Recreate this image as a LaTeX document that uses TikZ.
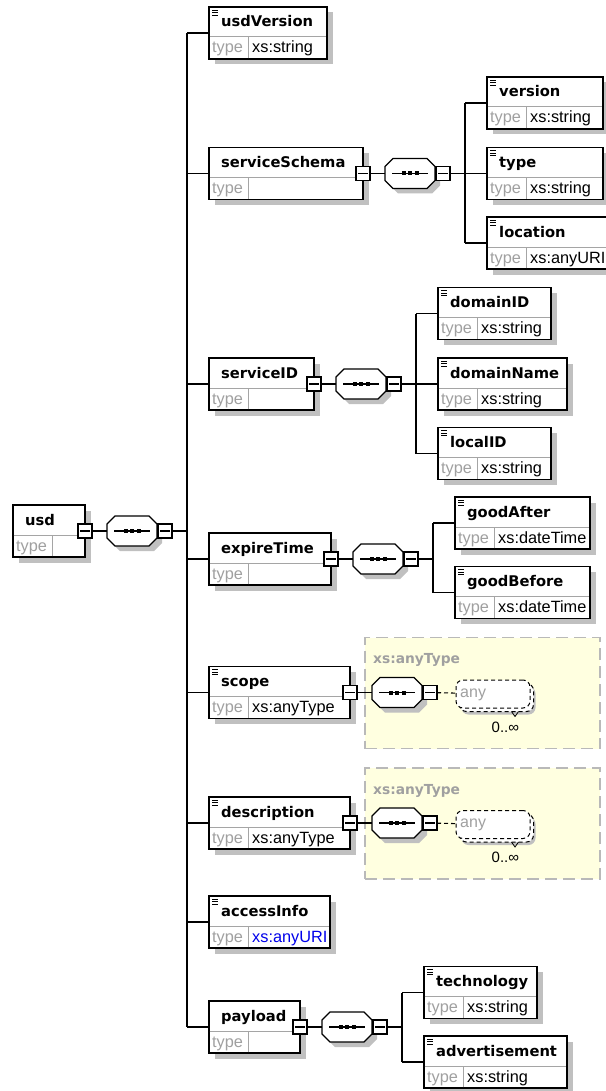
\documentclass[tikz,border=0pt]{standalone}
\usepackage{fontspec}
\setmainfont{Liberation Sans}
\newfontfamily\namefont{DejaVu Sans}
\usetikzlibrary{calc,shadows}

\definecolor{shadowcol}{RGB}{192,192,192}
\definecolor{keygray}{RGB}{160,160,160}
\definecolor{rulegray}{RGB}{165,165,165}
\definecolor{regionfill}{RGB}{255,255,224}
\definecolor{regionedge}{RGB}{185,185,185}
\definecolor{uriblue}{RGB}{0,0,235}

\tikzset{
  conn/.style={line width=1.1pt, draw=black},
  elembox/.style={draw=black, line width=1.3pt, fill=white, minimum height=52pt,
    inner sep=0pt, outer sep=0pt,
    drop shadow={shadow xshift=5.5pt, shadow yshift=-5.5pt, fill=shadowcol, opacity=1}},
  rowline/.style={draw=rulegray, line width=1pt},
  nametext/.style={anchor=base west, inner sep=0pt,
    font=\namefont\bfseries\fontsize{14.7}{17}\selectfont},
  typekey/.style={anchor=base west, inner sep=0pt, text=keygray,
    font=\fontsize{16.3}{18}\selectfont},
  typeval/.style={anchor=base west, inner sep=0pt, font=\fontsize{16.3}{18}\selectfont},
  minusbox/.style={draw=black, line width=1.1pt, fill=white, minimum size=14pt,
    inner sep=0pt, outer sep=0pt,
    path picture={\draw[line width=1.1pt]
      ([xshift=-5pt]path picture bounding box.center) --
      ([xshift=5pt]path picture bounding box.center);}},
  seqnode/.style={rectangle, minimum width=50pt, minimum height=30pt,
    inner sep=0pt, outer sep=0pt},
  octline/.style={draw=black, line width=1.3pt, fill=white},
  iconline/.style={line width=0.8pt},
  anyregion/.style={draw=regionedge, fill=regionfill, line width=1.2pt,
    dash pattern=on 12pt off 6pt, minimum width=235pt, minimum height=111pt,
    inner sep=0pt},
  anylabel/.style={anchor=base west, inner sep=0pt, text=keygray,
    font=\namefont\bfseries\fontsize{13.8}{16}\selectfont},
  wildcard/.style={draw=black, line width=1pt, dash pattern=on 4pt off 3pt,
    fill=white, rounded corners=7pt, minimum width=74pt, minimum height=28pt,
    inner sep=0pt},
  wildback/.style={draw=black, line width=1pt, dash pattern=on 4pt off 3pt,
    fill=white, rounded corners=7pt},
  wildtext/.style={anchor=base west, inner sep=0pt, text=keygray,
    font=\fontsize{16}{18}\selectfont},
  occurs/.style={anchor=base west, inner sep=0pt, font=\fontsize{15}{17}\selectfont},
}

% element box: name, left x, centre y, width, title, type value, icon (1/0)
\newcommand\xsdelem[7]{%
  \node[elembox, minimum width=#4pt] (#1) at ({#2+#4/2},#3) {};
  \draw[rowline] ($(#1.west)+(0.7,4)$) -- ($(#1.east)+(-0.7,4)$);
  \draw[rowline] ($(#1.south west)+(39,-0.7)$) -- ($(#1.west)+(39,4)$);
  \ifnum#7=1
    \draw[iconline] ($(#1.north west)+(3,3)$) -- ++(6,0)
                    ($(#1.north west)+(3,5.5)$) -- ++(6,0)
                    ($(#1.north west)+(3,8)$) -- ++(6,0);
  \fi
  \node[nametext] (#1-name) at ($(#1.north west)+(12,20)$) {#5};
  \node[typekey] (#1-key) at ($(#1.south west)+(3,-6)$) {type};
  \node[typeval] (#1-val) at ($(#1.south west)+(43,-6)$) {#6};
}

% sequence compositor: name, centre x, centre y
\newcommand\seqgroup[3]{%
  \begin{scope}[shift={({#2+5},{#3+5})}]
    \fill[shadowcol] (-25,-7) -- (-17,-15) -- (17,-15) -- (25,-7) -- (25,7)
      -- (17,15) -- (-17,15) -- (-25,7) -- cycle;
  \end{scope}
  \node[seqnode] (#1) at (#2,#3) {};
  \begin{scope}[shift={(#1.center)}]
    \draw[octline] (-25,-7) -- (-17,-15) -- (17,-15) -- (25,-7) -- (25,7)
      -- (17,15) -- (-17,15) -- (-25,7) -- cycle;
    \draw[line width=1.1pt] (-18,0) -- (18,0);
    \fill (-8.5,-2) rectangle (-4.5,2);
    \fill (-2,-2) rectangle (2,2);
    \fill (4.5,-2) rectangle (8.5,2);
  \end{scope}
  \node[minusbox] (#1-m) at ($(#1.center)+(33,0)$) {};
}

% xs:anyType region: prefix, centre y
\newcommand\anyregiongroup[2]{%
  \node[anyregion] (#1-region) at (482.5,{#2+0.5}) {};
  \node[anylabel] (#1-label) at (373,{#2-29}) {xs:anyType};
}

% wildcard particle with its occurrence label: prefix, centre y
\newcommand\wildcardgroup[2]{%
  \fill[shadowcol, rounded corners=7pt] (461.5,{#2-6}) rectangle ++(74,28);
  \draw[wildback] (459.5,{#2-9}) rectangle ++(74,28);
  \node[wildcard] (#1-any) at (493,{#2+1.5}) {};
  \node[wildtext] (#1-anytext) at (460,{#2+4.5}) {any};
  \draw[line width=0.8pt] (511.5,{#2+19}) -- (515,{#2+24}) -- (518.5,{#2+19});
  \node[occurs] (#1-occ) at (491.5,{#2+39.5}) {0..∞};
}

\begin{document}
\begin{tikzpicture}[x=1pt, y=-1pt]
\useasboundingbox (0,0) rectangle (605,1091);
\fill[white] (0,0) rectangle (605,1091);

% ---- root element
\xsdelem{usd}{13}{531}{72}{usd}{}{0}
\node[minusbox] (usd-m) at (usd.east) {};
\seqgroup{usd-seq}{132}{531}
\draw[conn] (usd-m) -- (usd-seq);
\coordinate (usd-bus) at ($(usd-seq-m)+(22,0)$);
\draw[conn] (usd-seq-m) -- (usd-bus);

% ---- usdVersion
\xsdelem{usdVersion}{209}{33}{118}{usdVersion}{xs:string}{1}

% ---- serviceSchema
\xsdelem{serviceSchema}{209}{173.5}{154}{serviceSchema}{}{0}
\node[minusbox] (serviceSchema-m) at (serviceSchema.east) {};
\seqgroup{ss-seq}{410}{173.5}
\draw[conn] (serviceSchema-m) -- (ss-seq);
\coordinate (ss-bus) at ($(ss-seq-m)+(22,0)$);
\draw[conn] (ss-seq-m) -- (ss-bus);
\xsdelem{ss-version}{487}{103}{116}{version}{xs:string}{1}
\xsdelem{ss-type}{487}{173.5}{116}{type}{xs:string}{1}
\xsdelem{ss-location}{487}{243}{121}{location}{xs:anyURI}{1}
\draw[conn] (ss-version.west -| ss-bus) -- (ss-location.west -| ss-bus);
\foreach \c in {ss-version, ss-type, ss-location}
  \draw[conn] (\c.west -| ss-bus) -- (\c.west);

% ---- serviceID
\xsdelem{serviceID}{209}{384}{105}{serviceID}{}{0}
\node[minusbox] (serviceID-m) at (serviceID.east) {};
\seqgroup{sid-seq}{361}{384}
\draw[conn] (serviceID-m) -- (sid-seq);
\coordinate (sid-bus) at ($(sid-seq-m)+(22,0)$);
\draw[conn] (sid-seq-m) -- (sid-bus);
\xsdelem{sid-domainID}{438}{313.5}{113}{domainID}{xs:string}{1}
\xsdelem{sid-domainName}{438}{384}{129}{domainName}{xs:string}{1}
\xsdelem{sid-localID}{438}{453.5}{113}{localID}{xs:string}{1}
\draw[conn] (sid-domainID.west -| sid-bus) -- (sid-localID.west -| sid-bus);
\foreach \c in {sid-domainID, sid-domainName, sid-localID}
  \draw[conn] (\c.west -| sid-bus) -- (\c.west);

% ---- expireTime
\xsdelem{expireTime}{209}{559}{122}{expireTime}{}{0}
\node[minusbox] (expireTime-m) at (expireTime.east) {};
\seqgroup{et-seq}{378}{559}
\draw[conn] (expireTime-m) -- (et-seq);
\coordinate (et-bus) at ($(et-seq-m)+(22,0)$);
\draw[conn] (et-seq-m) -- (et-bus);
\xsdelem{et-goodAfter}{455}{523}{135}{goodAfter}{xs:dateTime}{1}
\xsdelem{et-goodBefore}{455}{592.5}{135}{goodBefore}{xs:dateTime}{1}
\draw[conn] (et-goodAfter.west -| et-bus) -- (et-goodBefore.west -| et-bus);
\foreach \c in {et-goodAfter, et-goodBefore}
  \draw[conn] (\c.west -| et-bus) -- (\c.west);

% ---- scope
\anyregiongroup{sc}{692.5}
\xsdelem{scope}{209}{692.5}{141}{scope}{xs:anyType}{1}
\node[minusbox] (scope-m) at (scope.east) {};
\seqgroup{sc-seq}{397}{692.5}
\draw[conn] (scope-m) -- (sc-seq);
\wildcardgroup{sc}{692.5}
\draw[conn, dash pattern=on 4pt off 3pt] (sc-seq-m) -- (sc-any);

% ---- description
\anyregiongroup{de}{823}
\xsdelem{description}{209}{823}{141}{description}{xs:anyType}{1}
\node[minusbox] (description-m) at (description.east) {};
\seqgroup{de-seq}{397}{823}
\draw[conn] (description-m) -- (de-seq);
\wildcardgroup{de}{823}
\draw[conn, dash pattern=on 4pt off 3pt] (de-seq-m) -- (de-any);

% ---- accessInfo
\xsdelem{accessInfo}{209}{922}{121}{accessInfo}{\textcolor{uriblue}{xs:anyURI}}{1}

% ---- payload
\xsdelem{payload}{209}{1027}{91}{payload}{}{0}
\node[minusbox] (payload-m) at (payload.east) {};
\seqgroup{pl-seq}{347}{1027}
\draw[conn] (payload-m) -- (pl-seq);
\coordinate (pl-bus) at ($(pl-seq-m)+(22,0)$);
\draw[conn] (pl-seq-m) -- (pl-bus);
\xsdelem{pl-technology}{424}{992.5}{113}{technology}{xs:string}{1}
\xsdelem{pl-advertisement}{424}{1062}{143}{advertisement}{xs:string}{1}
\draw[conn] (pl-technology.west -| pl-bus) -- (pl-advertisement.west -| pl-bus);
\foreach \c in {pl-technology, pl-advertisement}
  \draw[conn] (\c.west -| pl-bus) -- (\c.west);

% ---- root bus to the top-level children
\draw[conn] (usdVersion.west -| usd-bus) -- (payload.west -| usd-bus);
\foreach \c in {usdVersion, serviceSchema, serviceID, expireTime, scope,
                description, accessInfo, payload}
  \draw[conn] (\c.west -| usd-bus) -- (\c.west);
\end{tikzpicture}
\end{document}
